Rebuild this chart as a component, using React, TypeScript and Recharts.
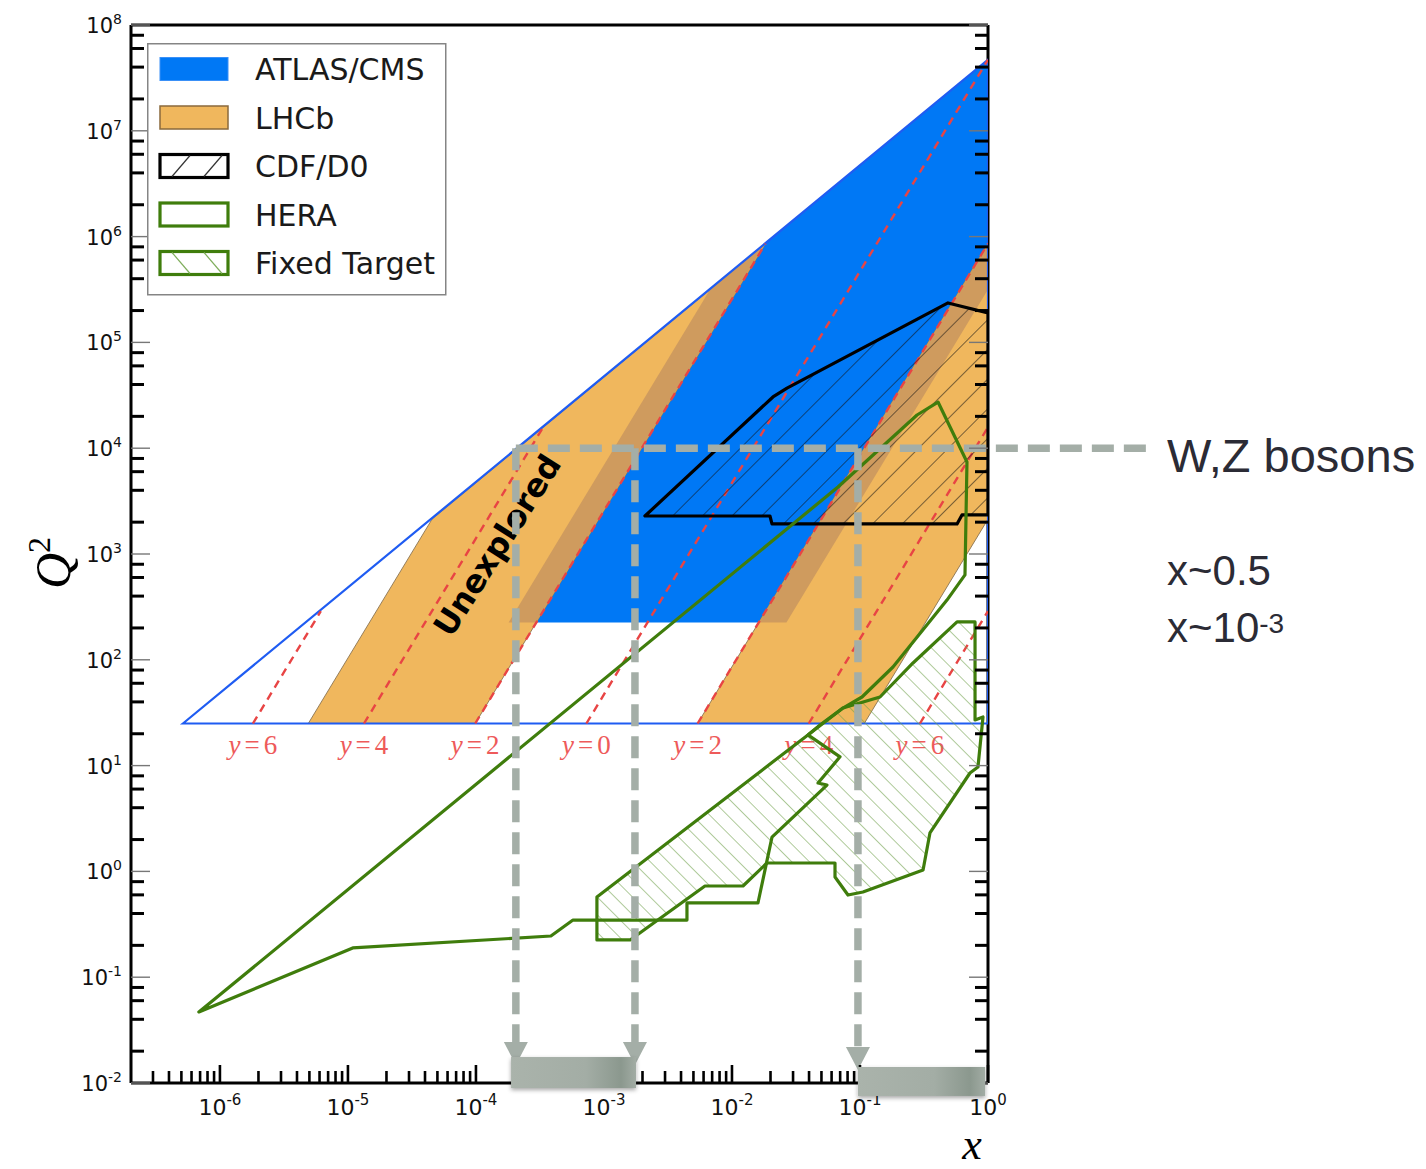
import React from "react";
import {
  ComposedChart,
  XAxis,
  YAxis,
  Scatter,
  ReferenceLine,
  ReferenceArea,
  Legend,
} from "recharts";

type Pt = [number, number];

// axis ranges: parton x and Q^2 (GeV^2)
const X_RANGE: [number, number] = [2.02e-7, 1];
const Q2_RANGE: [number, number] = [1e-2, 1e8];

const xDecades = [-7, -6, -5, -4, -3, -2, -1, 0];
const q2Decades = [-2, -1, 0, 1, 2, 3, 4, 5, 6, 7, 8];
const xMinorSteps = [2, 3, 4, 5, 6, 7, 8, 9];
const q2MinorSteps = [2, 4, 6, 8];

// LHC kinematic triangle (Q^2 > 25)
const kinematicLimit: Pt[] = [[5.14e-7, 25], [1, 4.7e7], [1, 25]];

// experiment acceptances
const atlasCms: Pt[] = [[1.8e-4, 225], [6.74e-3, 3.17e5], [1, 4.7e7], [1, 3.17e5], [0.02665, 225]];
const lhcbBackward: Pt[] = [[4.9e-6, 25], [4.54e-5, 2134], [0.0183, 8.6e5], [9.87e-5, 25]];
const lhcbForward: Pt[] = [[5.39e-3, 25], [1, 8.6e5], [1, 2134], [0.108, 25]];
const overlapBackward: Pt[] = [[1.8e-4, 225], [6.74e-3, 3.17e5], [0.0183, 8.6e5], [2.96e-4, 225]];
const overlapForward: Pt[] = [[0.01617, 225], [1, 8.6e5], [1, 3.17e5], [0.02665, 225]];

const cdfD0: Pt[] = [
  [2.09e-3, 2286], [0.0198, 2286], [0.02054, 1923], [0.573, 1923], [0.626, 2340],
  [1, 2340], [1, 1.9e5], [0.487, 2.36e5], [0.0269, 3.7e4], [0.0209, 3.05e4],
];

const hera: Pt[] = [
  [6.85e-7, 0.0469], [1.09e-5, 0.189], [3.85e-4, 0.245], [5.73e-4, 0.347], [4.45e-3, 0.347],
  [4.45e-3, 0.503], [0.01596, 0.503], [0.02054, 2.11], [0.0552, 6.55], [0.047, 6.85],
  [0.0698, 12.1], [0.0392, 19.5], [0.0736, 35.0], [0.1037, 44.5], [0.181, 85.5],
  [0.478, 367], [0.661, 634], [0.685, 7410], [0.407, 2.73e4], [0.279, 2.06e4], [0.0673, 4300],
];

const fixedTarget: Pt[] = [
  [8.81e-4, 0.573], [0.0392, 19.5], [0.0487, 24.2], [0.0736, 35.0], [0.1433, 44.5],
  [0.2595, 93.3], [0.573, 228], [0.792, 228], [0.792, 27.0], [0.914, 28.8],
  [0.835, 9.7], [0.723, 8.51], [0.352, 2.31], [0.311, 1.03], [0.1055, 0.638],
  [0.0806, 0.598], [0.0638, 0.885], [0.0638, 1.2], [0.01876, 1.2], [0.01219, 0.728],
  [6.15e-3, 0.728], [1.6e-3, 0.225], [8.81e-4, 0.225],
];

// lines of constant rapidity: labelled value, lower end (Q^2 = 25), upper end
const rapidityValues = [6, 4, 2, 0, 2, 4, 6];
const RAPIDITY_Q2 = 25;
const rapidityBottomX = [1.81e-6, 1.335e-5, 9.87e-5, 7.29e-4, 5.39e-3, 0.0398, 0.294];
const rapidityTop: Pt[] = [
  [6.14e-6, 288], [3.35e-4, 1.58e4], [0.0183, 8.6e5], [1, 4.7e7], [1, 8.6e5], [1, 1.58e4], [1, 288],
];

const unexploredAt: Pt = [1.46e-4, 1216];

// W/Z scale and the x ranges it reaches
const WZ_Q2 = 1e4;
const wzLineEndX = 17.8;
const wzDropX = [2.05e-4, 1.746e-3, 0.0964];
const wzDropTipQ2 = [0.0148, 0.0148, 0.0133];
const xBandStart = [1.88e-4, 0.0964];
const xBandEnd = [1.78e-3, 0.95];
const xBandTopQ2 = [0.0176, 0.01417];
const xBandBottomQ2 = [0.00897, 0.00754];

const xTicks = xDecades
  .flatMap((d) => [10 ** d, ...xMinorSteps.map((m) => m * 10 ** d)])
  .filter((v) => v >= X_RANGE[0] && v <= X_RANGE[1]);
const q2Ticks = q2Decades
  .flatMap((d) => [10 ** d, ...q2MinorSteps.map((m) => m * 10 ** d)])
  .filter((v) => v >= Q2_RANGE[0] && v <= Q2_RANGE[1]);

const decadeOf = (v: number) => {
  const l = Math.log10(v);
  return Math.abs(l - Math.round(l)) < 1e-6 ? Math.round(l) : null;
};

const asData = (pts: Pt[]) => pts.map(([x, q2]) => ({ x, q2 }));
const svgPoints = (pts: { x: number; y: number }[]) => pts.map((p) => `${p.x},${p.y}`).join(" ");
const noDot = () => <g />;

const BLUE = "#0078f5";
const ORANGE = "#f0b75d";
const BROWN = "#cf9b5e";
const GREEN = "#3f7d0c";
const RED = "#e84444";
const WZ_GRAY = "#a4aea7";
const TICK_FONT = "DejaVu Sans, Verdana, sans-serif";

const CHART_W = 1426;
const CHART_H = 1169;
const PLOT_MARGIN = { top: 25, right: 438, bottom: 86, left: 131 };

function region(key: string, pts: Pt[], style: React.SVGProps<SVGPolygonElement>) {
  return (
    <Scatter
      key={key}
      name={key}
      data={asData(pts)}
      shape={noDot}
      legendType="none"
      isAnimationActive={false}
      line={(lp: any) => <polygon points={svgPoints(lp.points)} {...style} />}
    />
  );
}

const BottomTick = (props: any) => {
  const { x, y, payload } = props;
  const p = decadeOf(payload.value);
  return (
    <g>
      <line x1={x} x2={x} y1={y} y2={y - (p !== null ? 18 : 12)} stroke="#000" strokeWidth={2.6} />
      {p !== null && (
        <text x={x} y={y + 32} textAnchor="middle" fontFamily={TICK_FONT} fontSize={22} fill="#111">
          10<tspan dy={-10} fontSize={15}>{p}</tspan>
        </text>
      )}
    </g>
  );
};

const TopTick = (props: any) => {
  const { x, y, payload } = props;
  const major = decadeOf(payload.value) !== null;
  return <line x1={x} x2={x} y1={y} y2={y + (major ? 17 : 12)} stroke="#000" strokeWidth={2.6} />;
};

const LeftTick = (props: any) => {
  const { x, y, payload } = props;
  const p = decadeOf(payload.value);
  return (
    <g>
      {p !== null ? (
        <line x1={x} x2={x + 19} y1={y} y2={y} stroke="#777" strokeWidth={1.4} />
      ) : (
        <line x1={x} x2={x + 13} y1={y} y2={y} stroke="#000" strokeWidth={3} />
      )}
      {p !== null && (
        <text x={x - 9} y={y + 8} textAnchor="end" fontFamily={TICK_FONT} fontSize={21} fill="#111">
          10<tspan dy={-9} fontSize={14}>{p}</tspan>
        </text>
      )}
    </g>
  );
};

const RightTick = (props: any) => {
  const { x, y, payload } = props;
  const major = decadeOf(payload.value) !== null;
  return major ? (
    <line x1={x} x2={x - 19} y1={y} y2={y} stroke="#777" strokeWidth={1.4} />
  ) : (
    <line x1={x} x2={x - 13} y1={y} y2={y} stroke="#000" strokeWidth={3} />
  );
};

const wzStroke = { stroke: WZ_GRAY, strokeWidth: 7.5, strokeDasharray: "22 10", fill: "none" };

const WzHorizontal = (p: any) => <line x1={p.x1} y1={p.y1} x2={p.x2} y2={p.y2} {...wzStroke} />;

const WzDrop = (p: any) => (
  <g>
    <line x1={p.x1} y1={p.y1} x2={p.x2} y2={p.y2 - 20} {...wzStroke} />
    <polygon points={`${p.x2 - 12},${p.y2 - 23} ${p.x2 + 12},${p.y2 - 23} ${p.x2},${p.y2}`} fill={WZ_GRAY} />
  </g>
);

const XBand = (p: any) => (
  <rect x={p.x} y={p.y} width={p.width} height={p.height} fill="url(#bandShade)" filter="url(#bandShadow)" />
);

const legendRows = ["ATLAS/CMS", "LHCb", "CDF/D0", "HERA", "Fixed Target"];

const LegendBox = () => (
  <svg width={300} height={253}>
    <rect x={0.75} y={0.75} width={298} height={251} fill="#fff" stroke="#858585" strokeWidth={1.5} />
    {legendRows.map((label, i) => {
      const cy = 26 + i * 48.5;
      const sx = 13;
      const sy = cy - 11.5;
      let swatch;
      if (i === 0) swatch = <rect x={sx} y={sy} width={68} height={23} fill={BLUE} stroke="#3a90f7" strokeWidth={1} />;
      else if (i === 1) swatch = <rect x={sx} y={sy} width={68} height={23} fill={ORANGE} stroke="#8a6a3c" strokeWidth={1.5} />;
      else if (i === 2)
        swatch = (
          <g>
            <rect x={sx} y={sy} width={68} height={23} fill="#fff" stroke="#000" strokeWidth={3.2} />
            <line x1={sx + 12} y1={sy + 22} x2={sx + 30} y2={sy + 1} stroke="#333" strokeWidth={1.2} />
            <line x1={sx + 44} y1={sy + 22} x2={sx + 62} y2={sy + 1} stroke="#333" strokeWidth={1.2} />
          </g>
        );
      else if (i === 3) swatch = <rect x={sx} y={sy} width={68} height={23} fill="#fff" stroke={GREEN} strokeWidth={3.2} />;
      else
        swatch = (
          <g>
            <rect x={sx} y={sy} width={68} height={23} fill="#fff" stroke={GREEN} strokeWidth={3.2} />
            <line x1={sx + 12} y1={sy + 1} x2={sx + 30} y2={sy + 22} stroke="#7fae5c" strokeWidth={1.2} />
            <line x1={sx + 44} y1={sy + 1} x2={sx + 62} y2={sy + 22} stroke="#7fae5c" strokeWidth={1.2} />
          </g>
        );
      return (
        <g key={label}>
          {swatch}
          <text x={108} y={cy + 11} fontFamily={TICK_FONT} fontSize={30} fill="#1a1a1a">
            {label}
          </text>
        </g>
      );
    })}
  </svg>
);

const rapidityBottom: Pt[] = rapidityBottomX.map((x) => [x, RAPIDITY_Q2]);
const rapiditySegments = rapidityBottom.flatMap((b, i) => [b, rapidityTop[i]]);
const rapidityLabelData = rapidityBottomX.map((x, i) => ({ x, q2: RAPIDITY_Q2, y: rapidityValues[i] }));

const axisLine = { stroke: "#000", strokeWidth: 3 };

// the shaded x ranges sit on top of the axis frame, so they get their own layer
const BandLayer = () => (
  <ComposedChart width={CHART_W} height={CHART_H} margin={PLOT_MARGIN}>
    <defs>
      <linearGradient id="bandShade" x1="0" y1="0" x2="1" y2="0">
        <stop offset="0" stopColor="#aab3ab" />
        <stop offset="0.6" stopColor="#a3ada5" />
        <stop offset="0.88" stopColor="#8b988e" />
        <stop offset="1" stopColor="#a2aca4" />
      </linearGradient>
      <filter id="bandShadow" x="-10%" y="-30%" width="120%" height="170%">
        <feDropShadow dx={0} dy={2} stdDeviation={2} floodColor="#000" floodOpacity={0.35} />
      </filter>
    </defs>
    <XAxis dataKey="x" type="number" scale="log" domain={X_RANGE} allowDataOverflow hide height={0} />
    <YAxis dataKey="q2" type="number" scale="log" domain={Q2_RANGE} allowDataOverflow hide width={0} />
    {xBandStart.map((x1, i) => (
      <ReferenceArea
        key={`band-${i}`}
        x1={x1}
        x2={xBandEnd[i]}
        y1={xBandTopQ2[i]}
        y2={xBandBottomQ2[i]}
        ifOverflow="visible"
        shape={XBand}
      />
    ))}
  </ComposedChart>
);

export default function App() {
  return (
    <div style={{ position: "absolute", left: 0, top: 0, width: CHART_W, height: CHART_H, background: "#fff" }}>
      <ComposedChart
        width={CHART_W}
        height={CHART_H}
        margin={{
          top: PLOT_MARGIN.top - 1,
          right: PLOT_MARGIN.right - 1,
          bottom: PLOT_MARGIN.bottom - 1,
          left: PLOT_MARGIN.left - 1,
        }}
      >
        <defs>
          <pattern id="hatchCdf" patternUnits="userSpaceOnUse" width={21} height={21} patternTransform="rotate(45)">
            <line x1={0} y1={0} x2={0} y2={21} stroke="#111" strokeWidth={1.1} />
          </pattern>
          <pattern id="hatchFixed" patternUnits="userSpaceOnUse" width={12.5} height={12.5} patternTransform="rotate(-45)">
            <line x1={0} y1={0} x2={0} y2={12.5} stroke="#6e9f4a" strokeWidth={1.1} />
          </pattern>
        </defs>

        {region("atlas", atlasCms, { fill: BLUE, stroke: "none" })}
        {region("lhcbBackward", lhcbBackward, { fill: ORANGE, stroke: "#8a7452", strokeWidth: 0.9 })}
        {region("lhcbForward", lhcbForward, { fill: ORANGE, stroke: "#8a7452", strokeWidth: 0.9 })}
        {region("overlapBackward", overlapBackward, { fill: BROWN, stroke: "none" })}
        {region("overlapForward", overlapForward, { fill: BROWN, stroke: "none" })}
        {region("kinematic", kinematicLimit, { fill: "none", stroke: "#1f5cf2", strokeWidth: 2.2 })}

        <Scatter
          name="rapidity"
          data={asData(rapiditySegments)}
          shape={noDot}
          legendType="none"
          isAnimationActive={false}
          line={(lp: any) => (
            <g>
              {lp.points
                .filter((_: any, i: number) => i % 2 === 0)
                .map((b: any, i: number) => {
                  const t = lp.points[i * 2 + 1];
                  return (
                    <line key={i} x1={b.x} y1={b.y} x2={t.x} y2={t.y} stroke={RED} strokeWidth={2.4} strokeDasharray="8 6" />
                  );
                })}
            </g>
          )}
        />
        <Scatter
          name="rapidityLabels"
          data={rapidityLabelData}
          legendType="none"
          isAnimationActive={false}
          shape={(p: any) => (
            <text x={p.cx} y={p.cy + 31} textAnchor="middle" fontFamily="Liberation Serif, serif" fontSize={27} fill="#ee5a5a">
              <tspan fontStyle="italic">y</tspan>
              <tspan dx={4}>=</tspan>
              <tspan dx={4}>{p.payload.y}</tspan>
            </text>
          )}
        />

        {region("cdf", cdfD0, { fill: "url(#hatchCdf)", stroke: "#000", strokeWidth: 3.2, strokeLinejoin: "round" })}
        {region("fixedTarget", fixedTarget, { fill: "url(#hatchFixed)", stroke: GREEN, strokeWidth: 3.2, strokeLinejoin: "round" })}
        {region("hera", hera, { fill: "none", stroke: GREEN, strokeWidth: 3.2, strokeLinejoin: "round" })}

        <Scatter
          name="unexplored"
          data={asData([unexploredAt])}
          legendType="none"
          isAnimationActive={false}
          shape={(p: any) => (
            <text
              transform={`translate(${p.cx},${p.cy}) rotate(-57.5)`}
              textAnchor="middle"
              dy="0.36em"
              fontFamily={TICK_FONT}
              fontWeight="bold"
              fontSize={32}
              fill="#000"
            >
              Unexplored
            </text>
          )}
        />

        <ReferenceLine
          segment={[{ x: wzDropX[0], y: WZ_Q2 }, { x: wzLineEndX, y: WZ_Q2 }]}
          ifOverflow="visible"
          shape={WzHorizontal}
          zIndex={650}
        />
        {wzDropX.map((x, i) => (
          <ReferenceLine
            key={`drop-${i}`}
            segment={[{ x, y: WZ_Q2 }, { x, y: wzDropTipQ2[i] }]}
            ifOverflow="visible"
            shape={WzDrop}
            zIndex={650}
          />
        ))}

        <XAxis
          xAxisId={0}
          dataKey="x"
          type="number"
          scale="log"
          domain={X_RANGE}
          allowDataOverflow
          ticks={xTicks}
          interval={0}
          height={1}
          tickSize={0}
          tickMargin={0}
          tickLine={false}
          axisLine={axisLine}
          tick={BottomTick}
        />
        <XAxis
          xAxisId="top"
          orientation="top"
          type="number"
          scale="log"
          domain={X_RANGE}
          allowDataOverflow
          ticks={xTicks}
          interval={0}
          height={1}
          tickSize={0}
          tickMargin={0}
          tickLine={false}
          axisLine={axisLine}
          tick={TopTick}
        />
        <YAxis
          yAxisId={0}
          dataKey="q2"
          type="number"
          scale="log"
          domain={Q2_RANGE}
          allowDataOverflow
          ticks={q2Ticks}
          interval={0}
          width={1}
          tickSize={0}
          tickMargin={0}
          tickLine={false}
          axisLine={axisLine}
          tick={LeftTick}
        />
        <YAxis
          yAxisId="right"
          orientation="right"
          type="number"
          scale="log"
          domain={Q2_RANGE}
          allowDataOverflow
          ticks={q2Ticks}
          interval={0}
          width={1}
          tickSize={0}
          tickMargin={0}
          tickLine={false}
          axisLine={axisLine}
          tick={RightTick}
        />

        <Legend
          layout="vertical"
          align="center"
          verticalAlign="middle"
          wrapperStyle={{ left: 147, top: 43, width: 300, height: 253 }}
          content={() => <LegendBox />}
        />
      </ComposedChart>

      <div style={{ position: "absolute", left: 0, top: 0, pointerEvents: "none" }}>
        <BandLayer />
      </div>

      <svg width={CHART_W} height={CHART_H} style={{ position: "absolute", left: 0, top: 0, pointerEvents: "none" }}>
        <text
          transform="translate(70,563) rotate(-90)"
          textAnchor="middle"
          fontFamily="Liberation Serif, serif"
          fontStyle="italic"
          fontSize={50}
          fill="#000"
        >
          Q<tspan dy={-20} fontSize={32} fontStyle="normal">2</tspan>
        </text>
        <text x={972} y={1159} textAnchor="middle" fontFamily="Liberation Serif, serif" fontStyle="italic" fontSize={44} fill="#000">
          x
        </text>
        <g fontFamily="Liberation Sans, Arial, sans-serif" fill="#2b2b35">
          <text x={1167} y={472} fontSize={47}>W,Z bosons</text>
          <text x={1167} y={585} fontSize={42}>x~0.5</text>
          <text x={1167} y={642} fontSize={42}>
            x~10<tspan dy={-9} fontSize={28}>-3</tspan>
          </text>
        </g>
      </svg>
    </div>
  );
}
